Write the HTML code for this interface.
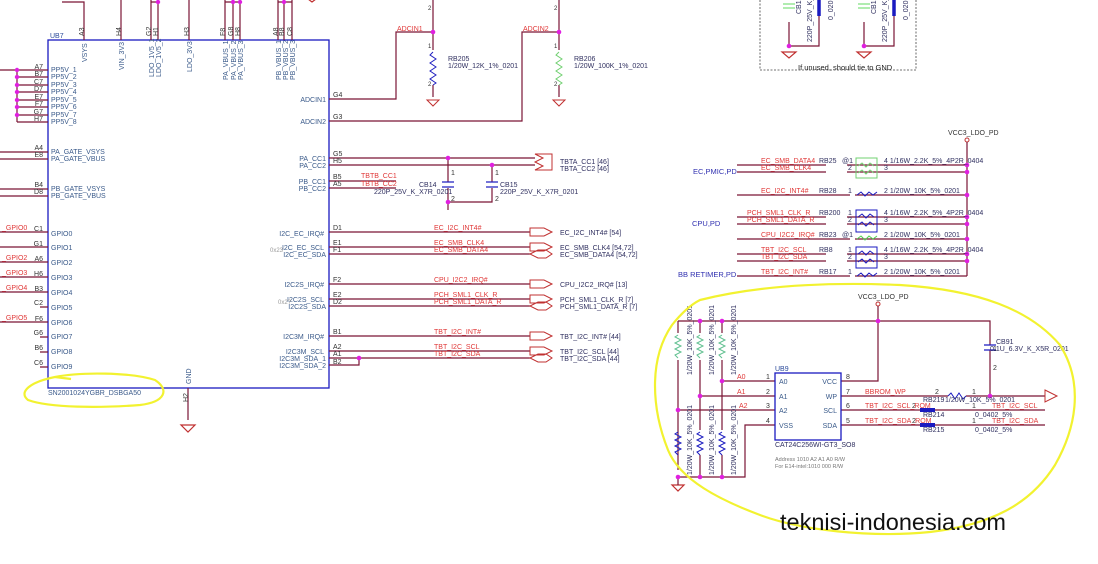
<!DOCTYPE html>
<html><head><meta charset="utf-8"><style>
html,body{margin:0;padding:0;background:#fff;width:1098px;height:564px;overflow:hidden}
svg{display:block}
text{font-family:"Liberation Sans",sans-serif}
.w{stroke:#7a1535;stroke-width:1.2;fill:none}
.b{stroke:#1a1ac0;stroke-width:1.3;fill:none}
.pn{fill:#3a5a8a;font-size:7px}
.pl{fill:#333;font-size:7px}
.r{fill:#e03838;font-size:7px}
.n{fill:#303060;font-size:7px}
.d{fill:#e020e0}
.y{stroke:#f2f230;stroke-width:2.2;fill:none}
</style></head><body>
<svg width="1098" height="564" viewBox="0 0 1098 564" xmlns="http://www.w3.org/2000/svg">
<!-- UB7 -->
<rect x="48" y="40" width="281" height="348" class="b"/>
<text x="50" y="38" fill="#2a4a9a" font-size="7">UB7</text>
<text x="48" y="395" class="pn">SN2001024YGBR_DSBGA50</text>
<g class="w">
<path d="M62 2H84V40"/><path d="M121 0V40"/><path d="M151 0V40M158 0V40M151 2H158"/><path d="M189 0V40"/>
<path d="M225 0V40M233 0V40M240 0V40M225 2H240"/><path d="M278 0V40M284 0V40M292 0V40M278 2H292"/>
<path d="M312 2l8 -6h-16z" stroke="#c03030"/>
</g>
<g class="d"><circle cx="158" cy="2" r="2.2"/><circle cx="233" cy="2" r="2.2"/><circle cx="240" cy="2" r="2.2"/><circle cx="284" cy="2" r="2.2"/></g>
<g class="pl" font-size="6.5">
<text transform="translate(84,36) rotate(-90)">A3</text><text transform="translate(121,36) rotate(-90)">H4</text>
<text transform="translate(151,36) rotate(-90)">G2</text><text transform="translate(158,36) rotate(-90)">H1</text>
<text transform="translate(189,36) rotate(-90)">H3</text><text transform="translate(225,36) rotate(-90)">F8</text>
<text transform="translate(233,36) rotate(-90)">G8</text><text transform="translate(240,36) rotate(-90)">H8</text>
<text transform="translate(278,36) rotate(-90)">A8</text><text transform="translate(284,36) rotate(-90)">B8</text>
<text transform="translate(292,36) rotate(-90)">C8</text>
</g>
<g class="pn" font-size="6.5">
<text transform="translate(87,62) rotate(-90)">VSYS</text><text transform="translate(124,70) rotate(-90)">VIN_3V3</text>
<text transform="translate(154,77) rotate(-90)">LDO_1V5_1</text><text transform="translate(161,77) rotate(-90)">LDO_1V5_2</text>
<text transform="translate(192,72) rotate(-90)">LDO_3V3</text>
<text transform="translate(228,80) rotate(-90)">PA_VBUS_1</text><text transform="translate(236,80) rotate(-90)">PA_VBUS_2</text><text transform="translate(243,80) rotate(-90)">PA_VBUS_3</text>
<text transform="translate(281,80) rotate(-90)">PB_VBUS_1</text><text transform="translate(288,80) rotate(-90)">PB_VBUS_2</text><text transform="translate(295,80) rotate(-90)">PB_VBUS_3</text>
</g>
<g class="w"><path d="M0 70H48M17 77H48M17 85H48M17 92H48M17 100H48M17 107H48M17 115H48M17 122H48M17 70V122"/>
<path d="M0 152H48M0 159H48M0 189H48M0 196H48"/>
<path d="M0 232H48M0 247H48M0 262H48M0 277H48M0 292H48M40 307H48M0 322H48M40 337H48M40 352H48M40 367H48"/></g>
<g class="d"><circle cx="17" cy="70" r="2.2"/><circle cx="17" cy="77" r="2.2"/><circle cx="17" cy="85" r="2.2"/><circle cx="17" cy="92" r="2.2"/><circle cx="17" cy="100" r="2.2"/><circle cx="17" cy="107" r="2.2"/><circle cx="17" cy="115" r="2.2"/></g>
<g class="pl" text-anchor="end"><text x="43" y="69">A7</text><text x="43" y="76">B7</text><text x="43" y="84">C7</text><text x="43" y="91">D7</text><text x="43" y="99">E7</text><text x="43" y="106">F7</text><text x="43" y="114">G7</text><text x="43" y="121">H7</text>
<text x="43" y="150">A4</text><text x="43" y="157">E8</text><text x="43" y="187">B4</text><text x="43" y="194">D8</text>
<text x="43" y="231">C1</text><text x="43" y="246">G1</text><text x="43" y="261">A6</text><text x="43" y="276">H6</text><text x="43" y="291">B3</text><text x="43" y="305">C2</text><text x="43" y="321">F6</text><text x="43" y="335">G6</text><text x="43" y="350">B6</text><text x="43" y="365">C6</text></g>
<g class="pn"><text x="51" y="72">PP5V_1</text><text x="51" y="79">PP5V_2</text><text x="51" y="87">PP5V_3</text><text x="51" y="94">PP5V_4</text><text x="51" y="102">PP5V_5</text><text x="51" y="109">PP5V_6</text><text x="51" y="117">PP5V_7</text><text x="51" y="124">PP5V_8</text>
<text x="51" y="154">PA_GATE_VSYS</text><text x="51" y="161">PA_GATE_VBUS</text><text x="51" y="191">PB_GATE_VSYS</text><text x="51" y="198">PB_GATE_VBUS</text>
<text x="51" y="236">GPIO0</text><text x="51" y="250">GPIO1</text><text x="51" y="265">GPIO2</text><text x="51" y="280">GPIO3</text><text x="51" y="295">GPIO4</text><text x="51" y="310">GPIO5</text><text x="51" y="325">GPIO6</text><text x="51" y="339">GPIO7</text><text x="51" y="354">GPIO8</text><text x="51" y="369">GPIO9</text></g>
<g class="r"><text x="2" y="230">_GPIO0</text><text x="2" y="260">_GPIO2</text><text x="2" y="275">_GPIO3</text><text x="2" y="290">_GPIO4</text><text x="2" y="320">_GPIO5</text></g>
<g class="pn" text-anchor="end">
<text x="326" y="102">ADCIN1</text><text x="326" y="124">ADCIN2</text>
<text x="326" y="161">PA_CC1</text><text x="326" y="168">PA_CC2</text><text x="326" y="184">PB_CC1</text><text x="326" y="191">PB_CC2</text>
<text x="324" y="236">I2C_EC_IRQ#</text><text x="324" y="250">I2C_EC_SCL</text><text x="326" y="257">I2C_EC_SDA</text>
<text x="324" y="287">I2C2S_IRQ#</text><text x="324" y="302">I2C2S_SCL</text><text x="326" y="309">I2C2S_SDA</text>
<text x="324" y="339">I2C3M_IRQ#</text><text x="324" y="354">I2C3M_SCL</text><text x="326" y="361">I2C3M_SDA_1</text><text x="326" y="368">I2C3M_SDA_2</text>
</g>
<text x="270" y="252" fill="#999" font-size="6">0x23</text><text x="278" y="304" fill="#999" font-size="6">0x2?</text>
<text transform="translate(191,384) rotate(-90)" class="pn">GND</text>
<g class="w"><path d="M188 388V420"/><path d="M181 425h14l-7 7z" stroke="#c03030"/></g>
<text transform="translate(188,402) rotate(-90)" class="pl">H2</text>
<g class="w">
<path d="M329 99H396V32H433"/><path d="M329 121H522V32H559"/>
<path d="M433 0V32M433 32V50M433 85V97"/><path d="M559 0V32M559 32V50M559 85V97"/>
<path d="M329 158H535M329 165H535"/><path d="M329 181H396M329 188H396"/>
<path d="M448 158V182M448 188V202M492 165V182M492 188V202H448V210"/>
<path d="M329 232H530M329 247H530M329 254H530M329 284H530M329 299H530M329 306H530M329 336H530M329 351H530M329 358H530M329 365H359V358"/>
</g>
<g stroke="#c03030" fill="none" stroke-width="1">
<path d="M427 100h12l-6 6z"/><path d="M553 100h12l-6 6z"/>
<path d="M552 154h-17l8 4-8 4 8 4-8 4h17z"/>
</g>
<path d="M433 52l-3 3 6 4-6 4 6 4-6 4 6 4-6 4 6 4-3 2" stroke="#2020c0" fill="none"/>
<path d="M559 52l-3 3 6 4-6 4 6 4-6 4 6 4-6 4 6 4-3 2" stroke="#70d070" fill="none"/>
<path d="M433 0l3 -4M559 0l3-4" stroke="#2020c0"/>
<g stroke="#2020c0" stroke-width="1.3"><path d="M442 182h12M442 187h12M486 182h12M486 187h12"/></g>
<g class="d"><circle cx="433" cy="32" r="2.3"/><circle cx="559" cy="32" r="2.3"/><circle cx="448" cy="158" r="2.3"/><circle cx="492" cy="165" r="2.3"/><circle cx="448" cy="202" r="2.3"/><circle cx="359" cy="358" r="2.3"/></g>
<g class="pl"><text x="333" y="97">G4</text><text x="333" y="119">G3</text><text x="333" y="156">G5</text><text x="333" y="163">H5</text><text x="333" y="179">B5</text><text x="333" y="186">A5</text>
<text x="333" y="230">D1</text><text x="333" y="245">E1</text><text x="333" y="252">F1</text><text x="333" y="282">F2</text><text x="333" y="297">E2</text><text x="333" y="304">D2</text><text x="333" y="334">B1</text><text x="333" y="349">A2</text><text x="333" y="356">A1</text><text x="333" y="364">B2</text>
<text x="428" y="10" font-size="6">2</text><text x="428" y="48" font-size="6">1</text><text x="428" y="86" font-size="6">2</text><text x="554" y="10" font-size="6">2</text><text x="554" y="48" font-size="6">1</text><text x="554" y="86" font-size="6">2</text>
<text x="451" y="175">1</text><text x="451" y="201">2</text><text x="495" y="175">1</text><text x="495" y="201">2</text></g>
<g class="r"><text x="397" y="31">ADCIN1</text><text x="523" y="31">ADCIN2</text><text x="361" y="178">TBTB_CC1</text><text x="361" y="186">TBTB_CC2</text>
<text x="434" y="230">EC_I2C_INT4#</text><text x="434" y="245">EC_SMB_CLK4</text><text x="434" y="252">EC_SMB_DATA4</text>
<text x="434" y="282">CPU_I2C2_IRQ#</text><text x="434" y="297">PCH_SML1_CLK_R</text><text x="434" y="304">PCH_SML1_DATA_R</text>
<text x="434" y="334">TBT_I2C_INT#</text><text x="434" y="349">TBT_I2C_SCL</text><text x="434" y="356">TBT_I2C_SDA</text></g>
<g class="n"><text x="448" y="61">RB205</text><text x="448" y="68">1/20W_12K_1%_0201</text><text x="574" y="61">RB206</text><text x="574" y="68">1/20W_100K_1%_0201</text>
<text x="419" y="187">CB14</text><text x="374" y="194">220P_25V_K_X7R_0201</text><text x="500" y="187">CB15</text><text x="500" y="194">220P_25V_K_X7R_0201</text>
<text x="560" y="164">TBTA_CC1 [46]</text><text x="560" y="171">TBTA_CC2 [46]</text>
<text x="560" y="235">EC_I2C_INT4# [54]</text><text x="560" y="250">EC_SMB_CLK4 [54,72]</text><text x="560" y="257">EC_SMB_DATA4 [54,72]</text>
<text x="560" y="287">CPU_I2C2_IRQ# [13]</text><text x="560" y="302">PCH_SML1_CLK_R [7]</text><text x="560" y="309">PCH_SML1_DATA_R [7]</text>
<text x="560" y="339">TBT_I2C_INT# [44]</text><text x="560" y="354">TBT_I2C_SCL [44]</text><text x="560" y="361">TBT_I2C_SDA [44]</text></g>
<g stroke="#c03030" fill="none" stroke-width="1">
<path d="M530 228h14l8 4-8 4h-14z"/><path d="M530 243h14l8 4-8 4h-14z"/><path d="M530 254l8-4h8l6 4-6 4h-8z"/>
<path d="M530 280h14l8 4-8 4h-14z"/><path d="M530 295h14l8 4-8 4h-14z"/><path d="M530 306l8-4h8l6 4-6 4h-8z"/>
<path d="M530 332h14l8 4-8 4h-14z"/><path d="M530 347h14l8 4-8 4h-14z"/><path d="M530 358l8-4h8l6 4-6 4h-8z"/>
</g>
<rect x="760" y="-5" width="156" height="75" fill="none" stroke="#444" stroke-dasharray="2,1.5" stroke-width="0.8"/>
<text x="798" y="70" fill="#222" font-size="7.5" font-family="Liberation Serif,serif">If unused, should tie to GND</text>
<g class="w"><path d="M789 22V46H819V0M864 22V46H894V0"/><path d="M782 52h14l-7 6z M857 52h14l-7 6z" stroke="#c03030"/></g>
<g stroke="#80e080" stroke-width="1.3"><path d="M783 4h12M783 8h12M858 4h12M858 8h12"/></g>
<path d="M819 0V16M894 0V16" stroke="#1a1ac0" stroke-width="3.5"/>
<g class="d"><circle cx="789" cy="46" r="2.3"/><circle cx="864" cy="46" r="2.3"/></g>
<g class="n" font-size="6"><text transform="translate(801,14) rotate(-90)">CB1</text><text transform="translate(812,42) rotate(-90)">220P_25V_K_X</text><text transform="translate(833,20) rotate(-90)">0_0201</text>
<text transform="translate(876,14) rotate(-90)">CB1</text><text transform="translate(887,42) rotate(-90)">220P_25V_K_X</text><text transform="translate(908,20) rotate(-90)">0_0201</text></g>
<text x="948" y="135" class="pl">VCC3_LDO_PD</text>
<circle cx="967" cy="140" r="2" fill="none" stroke="#c03030"/>
<g class="w"><path d="M967 142V276"/>
<path d="M737 165H826M847 165H967M737 172H826M847 172H967M737 195H850M855 195H967M737 217H826M847 217H967M737 224H826M847 224H967M737 239H850M855 239H967M737 254H826M847 254H967M737 261H826M847 261H967M737 276H850M855 276H967"/></g>
<rect x="856" y="158" width="21" height="20" fill="none" stroke="#70d070"/>
<rect x="856" y="210" width="21" height="22" fill="none" stroke="#1a1ac0"/>
<rect x="856" y="247" width="21" height="21" fill="none" stroke="#1a1ac0"/>
<g fill="none" stroke-width="1">
<path d="M858 166l4-3 4 4 4-4 4 3M858 173l4-3 4 4 4-4 4 3" stroke="#70d070"/>
<path d="M858 217l4-3 4 4 4-4 4 3M858 225l4-3 4 4 4-4 4 3M858 254l4-3 4 4 4-4 4 3M858 262l4-3 4 4 4-4 4 3M857 195l4-3 4 4 4-4 4 3 4-3M857 276l4-3 4 4 4-4 4 3 4-3" stroke="#1a1ac0"/>
<path d="M857 239l4-3 4 4 4-4 4 3 4-3" stroke="#50d050"/></g>
<g class="d"><circle cx="967" cy="165" r="2.3"/><circle cx="967" cy="172" r="2.3"/><circle cx="967" cy="195" r="2.3"/><circle cx="967" cy="217" r="2.3"/><circle cx="967" cy="224" r="2.3"/><circle cx="967" cy="239" r="2.3"/><circle cx="967" cy="254" r="2.3"/><circle cx="967" cy="261" r="2.3"/></g>
<g class="r"><text x="761" y="163">EC_SMB_DATA4</text><text x="761" y="170">EC_SMB_CLK4</text><text x="761" y="193">EC_I2C_INT4#</text><text x="747" y="215">PCH_SML1_CLK_R</text><text x="747" y="222">PCH_SML1_DATA_R</text><text x="761" y="237">CPU_I2C2_IRQ#</text><text x="761" y="252">TBT_I2C_SCL</text><text x="761" y="259">TBT_I2C_SDA</text><text x="761" y="274">TBT_I2C_INT#</text></g>
<g class="n"><text x="819" y="163">RB25</text><text x="842" y="163">@1</text><text x="848" y="170">2</text><text x="819" y="193">RB28</text><text x="848" y="193">1</text><text x="819" y="215">RB200</text><text x="848" y="215">1</text><text x="848" y="222">2</text><text x="819" y="237">RB23</text><text x="842" y="237">@1</text><text x="819" y="252">RB8</text><text x="848" y="252">1</text><text x="848" y="259">2</text><text x="819" y="274">RB17</text><text x="848" y="274">1</text>
<text x="884" y="163">4 1/16W_2.2K_5%_4P2R_0404</text><text x="884" y="170">3</text><text x="884" y="193">2 1/20W_10K_5%_0201</text><text x="884" y="215">4 1/16W_2.2K_5%_4P2R_0404</text><text x="884" y="222">3</text><text x="884" y="237">2 1/20W_10K_5%_0201</text><text x="884" y="252">4 1/16W_2.2K_5%_4P2R_0404</text><text x="884" y="259">3</text><text x="884" y="274">2 1/20W_10K_5%_0201</text></g>
<g fill="#3030b0" font-size="7.5" font-family="Liberation Serif,serif"><text x="693" y="174">EC,PMIC,PD</text><text x="692" y="226">CPU,PD</text><text x="678" y="277">BB RETIMER,PD</text></g>
<text x="858" y="299" class="pl">VCC3_LDO_PD</text>
<circle cx="878" cy="304" r="2" fill="none" stroke="#c03030"/>
<g class="w"><path d="M878 306V381H841M678 321H990V345M990 350V396"/>
<path d="M678 321V333M678 360V470M700 321V333M700 360V430M700 455V477M722 321V333M722 360V430M722 455V477M678 477H745V425H775"/>
<path d="M722 381H775M700 396H775M678 410H775"/>
<path d="M841 396H948M966 396H1045M841 410H920M935 410H1045M841 425H920M935 425H1045"/>
<path d="M672 485h12l-6 6z" stroke="#c03030"/><path d="M678 477V485"/></g>
<path d="M1045 390l12 6-12 6z" fill="none" stroke="#c03030"/>
<path d="M920 410h15M920 425h15" stroke="#1a1ac0" stroke-width="4"/>
<path d="M948 396l3-3 4 6 4-6 4 6 3-3" fill="none" stroke="#1a1ac0"/>
<g stroke="#1a1ac0" stroke-width="1.3"><path d="M984 345h12M984 350h12"/></g>
<g fill="none" stroke-width="1"><path d="M678 335l-3 2 6 3-6 3 6 3-6 3 6 3-6 3 3 3" stroke="#60c090"/><path d="M700 335l-3 2 6 3-6 3 6 3-6 3 6 3-6 3 3 3" stroke="#60c090"/><path d="M722 335l-3 2 6 3-6 3 6 3-6 3 6 3-6 3 3 3" stroke="#60c090"/>
<path d="M678 432l-3 2 6 3-6 3 6 3-6 3 6 3-6 3 3 3" stroke="#1a1ac0"/><path d="M700 432l-3 2 6 3-6 3 6 3-6 3 6 3-6 3 3 3" stroke="#1a1ac0"/><path d="M722 432l-3 2 6 3-6 3 6 3-6 3 6 3-6 3 3 3" stroke="#1a1ac0"/></g>
<rect x="775" y="373" width="66" height="67" class="b"/>
<g class="d"><circle cx="700" cy="321" r="2.3"/><circle cx="722" cy="321" r="2.3"/><circle cx="878" cy="321" r="2.3"/><circle cx="722" cy="381" r="2.3"/><circle cx="700" cy="396" r="2.3"/><circle cx="678" cy="410" r="2.3"/><circle cx="990" cy="396" r="2.3"/><circle cx="678" cy="477" r="2.3"/><circle cx="700" cy="477" r="2.3"/><circle cx="722" cy="477" r="2.3"/></g>
<text x="775" y="371" fill="#2a4a9a" font-size="7">UB9</text>
<g class="pn"><text x="779" y="384">A0</text><text x="779" y="399">A1</text><text x="779" y="413">A2</text><text x="779" y="428">VSS</text>
<text x="837" y="384" text-anchor="end">VCC</text><text x="837" y="399" text-anchor="end">WP</text><text x="837" y="413" text-anchor="end">SCL</text><text x="837" y="428" text-anchor="end">SDA</text></g>
<g class="pl"><text x="766" y="379">1</text><text x="766" y="394">2</text><text x="766" y="408">3</text><text x="766" y="423">4</text><text x="846" y="394">7</text><text x="846" y="379">8</text><text x="846" y="408">6</text><text x="846" y="423">5</text>
<text x="935" y="394">2</text><text x="972" y="394">1</text><text x="912" y="408">2</text><text x="972" y="408">1</text><text x="912" y="423">2</text><text x="972" y="423">1</text>
<text x="993" y="351">1</text><text x="993" y="370">2</text></g>
<g class="r"><text x="737" y="379">A0</text><text x="737" y="394">A1</text><text x="739" y="408">A2</text><text x="865" y="394">BBROM_WP</text><text x="865" y="408">TBT_I2C_SCL_ROM</text><text x="865" y="423">TBT_I2C_SDA_ROM</text><text x="992" y="408">TBT_I2C_SCL</text><text x="992" y="423">TBT_I2C_SDA</text></g>
<g class="n"><text x="775" y="447">CAT24C256WI-GT3_SO8</text><text x="923" y="402">RB219</text><text x="945" y="402">1/20W_10K_5%_0201</text><text x="923" y="417">RB214</text><text x="975" y="417">0_0402_5%</text><text x="923" y="432">RB215</text><text x="975" y="432">0_0402_5%</text>
<text x="996" y="344">CB91</text><text x="990" y="351">0.1U_6.3V_K_X5R_0201</text></g>
<g fill="#777" font-size="5.5" font-family="Liberation Mono,monospace"><text x="775" y="461">Address 1010 A2 A1 A0 R/W</text><text x="775" y="468">For E14-intel:1010 000 R/W</text></g>
<g class="n" font-size="6"><text transform="translate(692,375) rotate(-90)">1/20W_10K_5%_0201</text><text transform="translate(714,375) rotate(-90)">1/20W_10K_5%_0201</text><text transform="translate(736,375) rotate(-90)">1/20W_10K_5%_0201</text>
<text transform="translate(692,475) rotate(-90)">1/20W_10K_5%_0201</text><text transform="translate(714,475) rotate(-90)">1/20W_10K_5%_0201</text><text transform="translate(736,475) rotate(-90)">1/20W_10K_5%_0201</text></g>
<path class="y" d="M700 300C760 285 830 282 900 285C980 290 1030 310 1060 345C1085 385 1075 430 1055 465C1030 505 990 525 930 532C870 538 800 530 760 515C720 500 680 480 668 450C652 410 648 360 672 325C680 315 690 305 700 300Z"/>
<path class="y" d="M55 377C80 372 130 372 155 380C170 390 165 402 140 405C100 408 50 408 28 400C18 392 30 382 55 377M55 377l16 2"/>
<text x="780" y="530" fill="#111" font-size="23.5">teknisi-indonesia.com</text>
</svg>
</body></html>
